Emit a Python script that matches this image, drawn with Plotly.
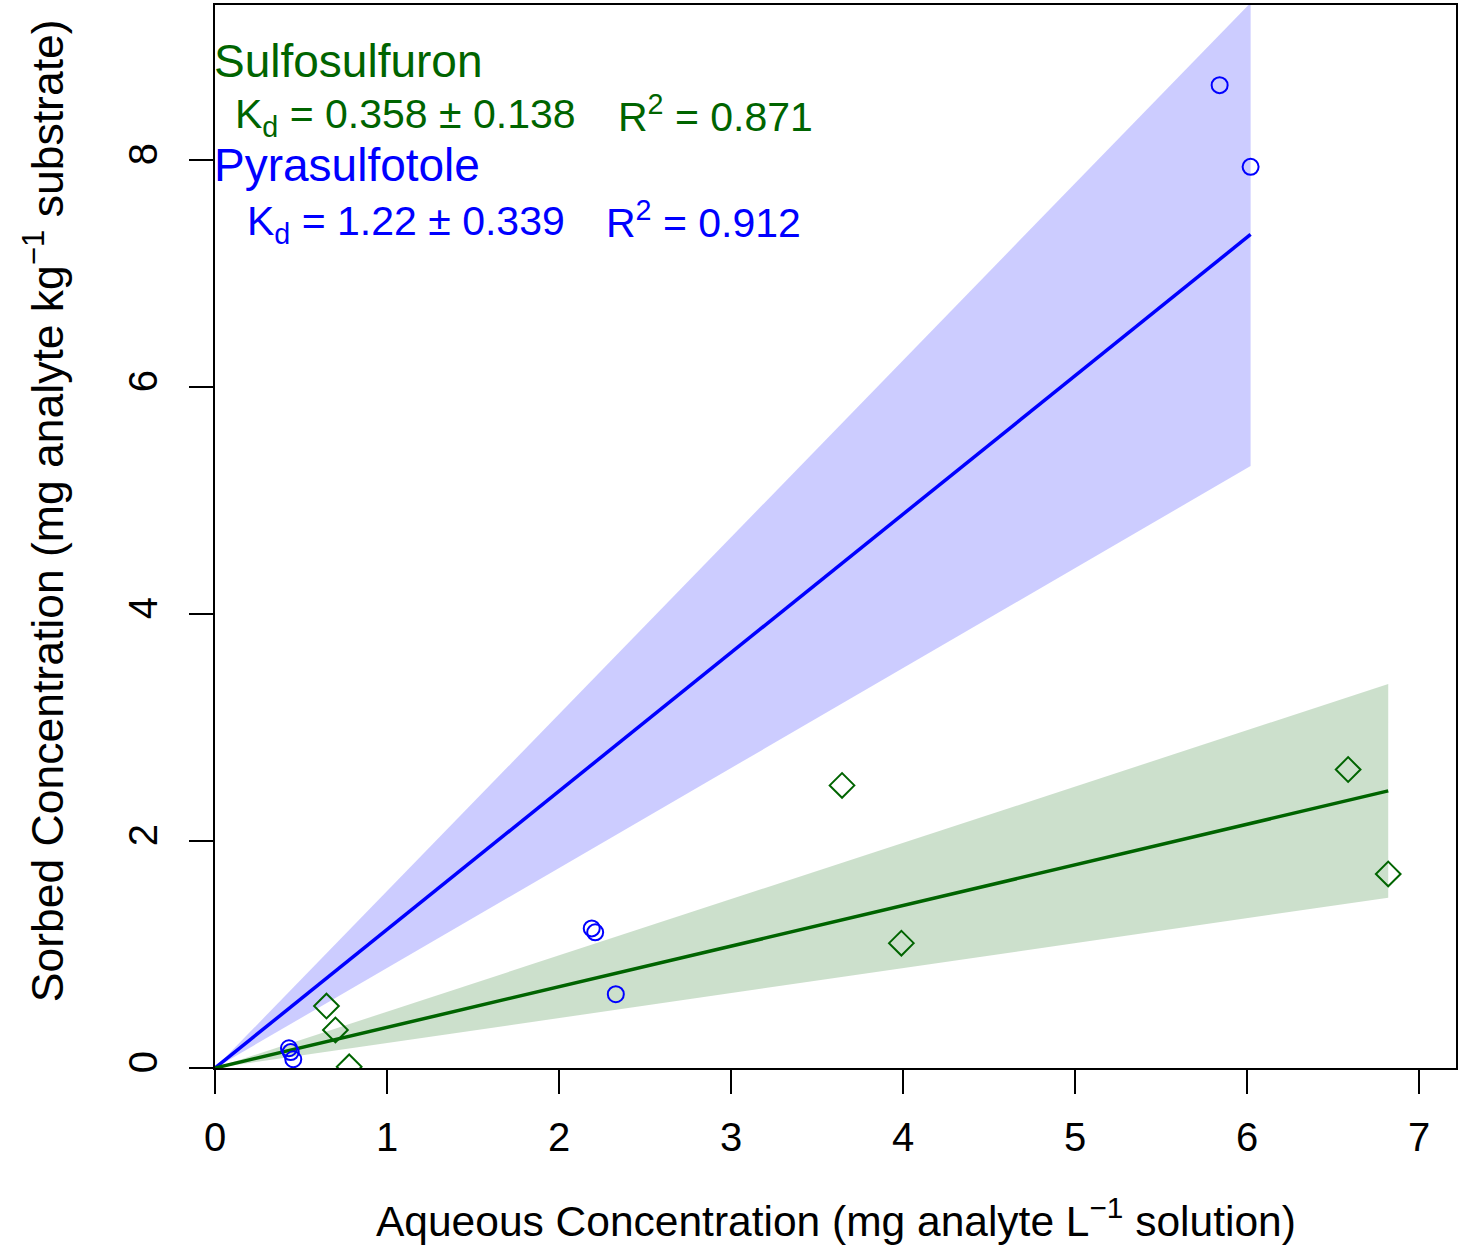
import plotly.graph_objects as go

# ---- data ----
pyra_x = [5.84, 6.02, 2.19, 2.21, 2.33, 0.43, 0.44, 0.455]
pyra_y = [8.66, 7.94, 1.23, 1.195, 0.65, 0.174, 0.14, 0.077]
sulfo_x = [0.648, 0.70, 0.78, 3.645, 3.99, 6.587, 6.82]
sulfo_y = [0.546, 0.335, 0.01, 2.49, 1.10, 2.63, 1.71]
pyra_kd, pyra_se, pyra_r2 = 1.22, 0.339, 0.912
sulfo_kd, sulfo_se, sulfo_r2 = 0.358, 0.138, 0.871
x_ticks = [0, 1, 2, 3, 4, 5, 6, 7]
y_ticks = [0, 2, 4, 6, 8]

BLUE = "#0000FF"
GREEN = "#006400"
FONT = "Liberation Sans, Arial, sans-serif"

W, H = 1461, 1247
L, R, T, B = 215, 3, 5, 179

def px(x):
    return (x - L) / (W - L - R)

def py(y):
    return (H - B - y) / (H - B - T)

fig = go.Figure()

def band(xs, kd, se, fillcolor):
    xm = max(xs)
    fig.add_trace(go.Scatter(
        x=[0, xm, xm, 0], y=[0, (kd + se) * xm, (kd - se) * xm, 0],
        fill="toself", fillcolor=fillcolor, line=dict(width=0),
        mode="lines", hoverinfo="skip", showlegend=False))

band(pyra_x, pyra_kd, pyra_se, "rgba(0,0,255,0.2)")
band(sulfo_x, sulfo_kd, sulfo_se, "rgba(0,100,0,0.2)")

for xs, kd, col in [(pyra_x, pyra_kd, BLUE), (sulfo_x, sulfo_kd, GREEN)]:
    xm = max(xs)
    fig.add_trace(go.Scatter(x=[0, xm], y=[0, kd * xm], mode="lines",
                             line=dict(color=col, width=3.5), showlegend=False))

fig.add_trace(go.Scatter(x=pyra_x, y=pyra_y, mode="markers", showlegend=False,
                         marker=dict(symbol="circle-open", size=16, color=BLUE,
                                     line=dict(width=2, color=BLUE))))
fig.add_trace(go.Scatter(x=sulfo_x, y=sulfo_y, mode="markers", showlegend=False,
                         cliponaxis=True,
                         marker=dict(symbol="diamond-open", size=19, color=GREEN,
                                     line=dict(width=2, color=GREEN))))

ann = []
def txt(s, x, y, size, color="black", xanchor="left", angle=0):
    ann.append(dict(text=s, x=px(x), y=py(y), xref="paper", yref="paper",
                    xanchor=xanchor, yanchor="middle", showarrow=False,
                    textangle=angle, font=dict(size=size, color=color, family=FONT)))

txt("Sulfosulfuron", 212, 61, 46, GREEN)
txt(f"K<sub>d</sub> = {sulfo_kd} ± {sulfo_se}", 233, 117, 41, GREEN)
txt(f"R<sup>2</sup> = {sulfo_r2}", 617, 114, 41, GREEN)
txt("Pyrasulfotole", 212, 165, 46, BLUE)
txt(f"K<sub>d</sub> = {pyra_kd} ± {pyra_se}", 245, 224, 41, BLUE)
txt(f"R<sup>2</sup> = {pyra_r2}", 605, 220, 41, BLUE)
txt("Aqueous Concentration (mg analyte L<sup>−1</sup> solution)", 837, 1218, 42.5, xanchor="center")
txt("Sorbed Concentration (mg analyte kg<sup>−1</sup> substrate)", 44, 511, 44.5, xanchor="center", angle=-90)

fig.update_layout(
    width=W, height=H, margin=dict(l=L, r=R, t=T, b=B),
    paper_bgcolor="white", plot_bgcolor="white",
    annotations=ann,
    xaxis=dict(range=[0, 7.214], tickvals=x_ticks, ticktext=[str(v) for v in x_ticks],
               ticks="outside", ticklen=24, tickwidth=2, tickcolor="black",
               showline=True, mirror=True, linecolor="black", linewidth=2,
               showgrid=False, zeroline=False, ticklabelstandoff=9,
               tickfont=dict(size=40, family=FONT, color="black")),
    yaxis=dict(range=[0, 9.366], tickvals=y_ticks, ticktext=[str(v) for v in y_ticks],
               ticks="outside", ticklen=24, tickwidth=2, tickcolor="black",
               showline=True, mirror=True, linecolor="black", linewidth=2,
               showgrid=False, zeroline=False, tickangle=-90, ticklabelstandoff=16,
               tickfont=dict(size=40, family=FONT, color="black")),
)

fig.write_html("out.html")
